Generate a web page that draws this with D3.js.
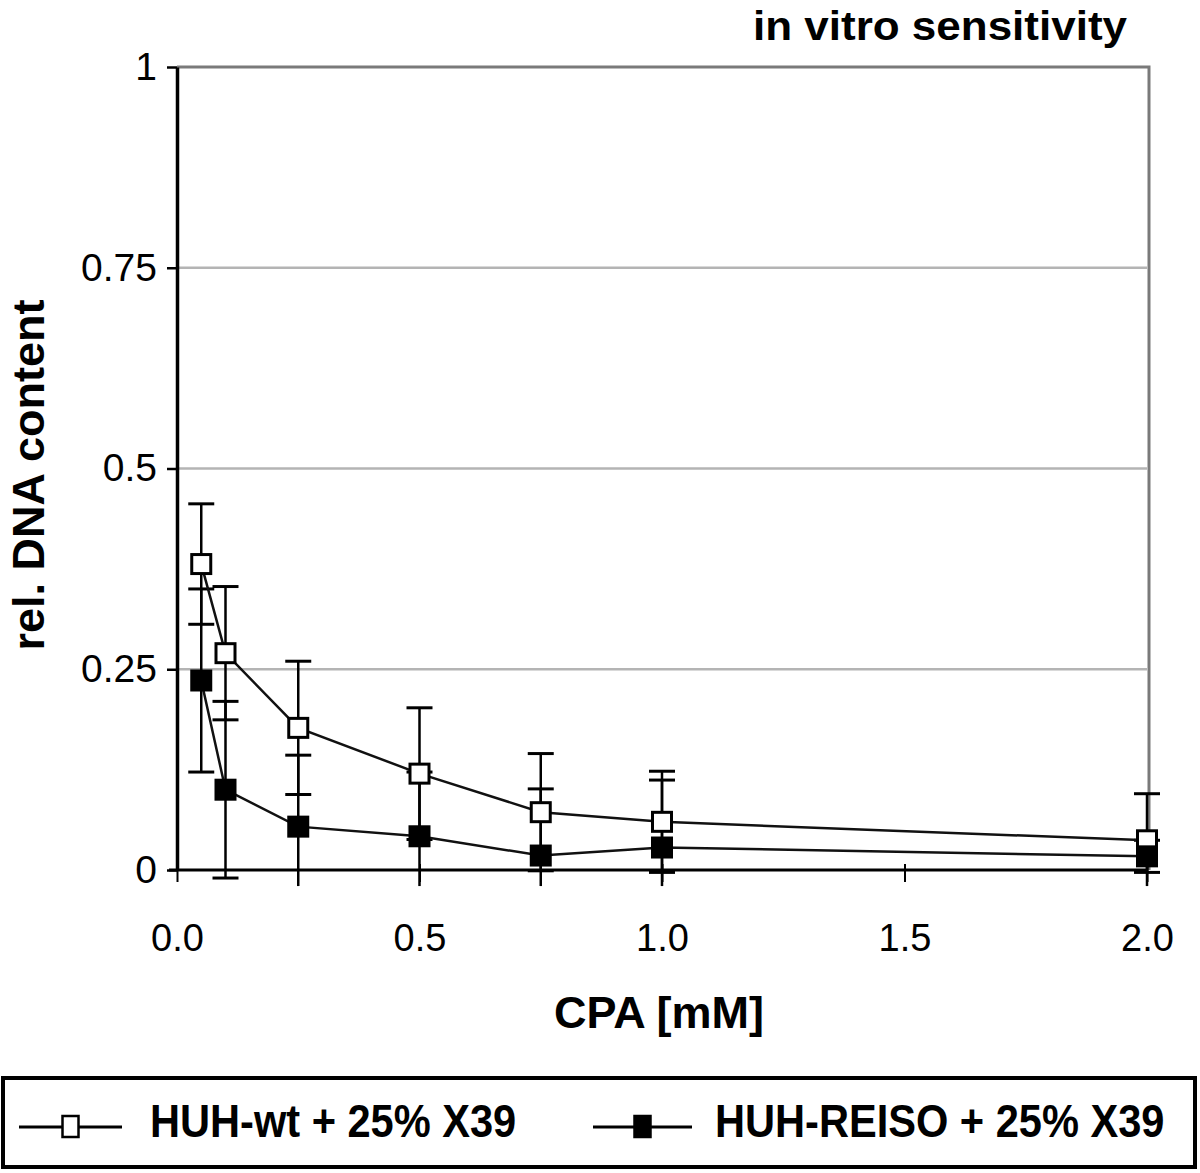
<!DOCTYPE html>
<html>
<head>
<meta charset="utf-8">
<script src="https://cdn.jsdelivr.net/npm/d3@7"></script>
<style>
  body { margin: 0; background: #fff; }
  svg { display: block; }
  text { font-family: "Liberation Sans", Arial, Helvetica, sans-serif; fill: #000; }
</style>
</head>
<body>
<svg id="chart" width="1200" height="1173"></svg>
<script>
// CPA concentrations (mM)
var doses = [0.05, 0.1, 0.25, 0.5, 0.75, 1.0, 2.0];
// HUH-wt + 25% X39 (open squares)
var wtMean = [0.381, 0.270, 0.177, 0.120, 0.072, 0.060, 0.037];
var wtErr = [0.075, 0.083, 0.083, 0.082, 0.073, 0.063, 0.058];
// HUH-REISO + 25% X39 (filled squares)
var reisoMean = [0.236, 0.100, 0.054, 0.042, 0.018, 0.028, 0.017];
var reisoErr = [0.114, 0.110, 0.089, 0.080, 0.083, 0.084, 0.020];

var yTicks = [0, 0.25, 0.5, 0.75, 1];
var yTickLabels = ['0', '0.25', '0.5', '0.75', '1'];
var xTicks = [0, 0.5, 1.0, 1.5, 2.0];
var seriesNames = ['HUH-wt + 25% X39', 'HUH-REISO + 25% X39'];

var svg = d3.select('#chart');
var x = d3.scaleLinear().domain([0, 2]).range([177, 1147]);
var y = d3.scaleLinear().domain([0, 1]).range([870, 67]);
var yFloor = -0.02;

var series = [
  { name: seriesNames[0], mean: wtMean, err: wtErr, fill: '#fff' },
  { name: seriesNames[1], mean: reisoMean, err: reisoErr, fill: '#000' }
];

// grid lines
svg.append('g').selectAll('line').data(yTicks.filter(function(d) { return d > 0 && d < 1; }))
  .enter().append('line')
  .attr('x1', x(0)).attr('x2', x(2))
  .attr('y1', function(d) { return y(d); }).attr('y2', function(d) { return y(d); })
  .style('stroke', '#b4b4b4').style('stroke-width', 2.5);

// plot frame top + right (gray)
svg.append('path')
  .attr('d', 'M' + x(0) + ',' + y(1) + 'H' + (x(2) + 2) + 'V' + y(0))
  .style('fill', 'none').style('stroke', '#7a7a7a').style('stroke-width', 3);

// axes
var yAxis = d3.axisLeft(y).tickValues(yTicks).tickSizeInner(10).tickSizeOuter(0).tickPadding(10)
  .tickFormat(function(d, i) { return yTickLabels[i]; });
var gy = svg.append('g').attr('transform', 'translate(' + x(0) + ',0)').call(yAxis);
gy.select('.domain').style('stroke', '#000').style('stroke-width', 3.5);
gy.selectAll('.tick line').style('stroke', '#000').style('stroke-width', 2.5);
gy.selectAll('.tick text').style('font-size', '39px').style('font-family', '"Liberation Sans", Arial, sans-serif');

var xAxis = d3.axisBottom(x).tickValues(xTicks).tickSizeInner(12).tickSizeOuter(0).tickPadding(42)
  .tickFormat(d3.format('.1f'));
var gx = svg.append('g').attr('transform', 'translate(0,' + y(0) + ')').call(xAxis);
gx.select('.domain').attr('d', 'M' + (x(0) - 8) + ',0H' + x(2)).style('stroke', '#000').style('stroke-width', 3);
gx.selectAll('.tick line').attr('y1', -6).style('stroke', '#000').style('stroke-width', 2);
gx.selectAll('.tick text').style('font-size', '38px').style('font-family', '"Liberation Sans", Arial, sans-serif');

// error bars, lines, markers
series.forEach(function(s) {
  var pts = doses.map(function(d, i) { return { x: d, m: s.mean[i], e: s.err[i] }; });
  var g = svg.append('g');
  g.selectAll('line.bar').data(pts).enter().append('line')
    .attr('x1', function(d) { return x(d.x); }).attr('x2', function(d) { return x(d.x); })
    .attr('y1', function(d) { return y(d.m + d.e); })
    .attr('y2', function(d) { return y(Math.max(yFloor, d.m - d.e)); })
    .style('stroke', '#000').style('stroke-width', 2.5);
  var caps = [];
  pts.forEach(function(d) {
    caps.push({ x: d.x, v: d.m + d.e });
    if (d.m - d.e > yFloor) caps.push({ x: d.x, v: d.m - d.e });
  });
  g.selectAll('line.cap').data(caps).enter().append('line')
    .attr('x1', function(d) { return x(d.x) - 13; }).attr('x2', function(d) { return x(d.x) + 13; })
    .attr('y1', function(d) { return y(d.v); }).attr('y2', function(d) { return y(d.v); })
    .style('stroke', '#000').style('stroke-width', 3);
});

series.forEach(function(s) {
  var pts = doses.map(function(d, i) { return { x: d, m: s.mean[i] }; });
  svg.append('path').datum(pts)
    .attr('d', d3.line().x(function(d) { return x(d.x); }).y(function(d) { return y(d.m); }))
    .style('fill', 'none').style('stroke', '#111').style('stroke-width', 2.5);
});

series.forEach(function(s) {
  var pts = doses.map(function(d, i) { return { x: d, m: s.mean[i] }; });
  svg.append('g').selectAll('rect').data(pts).enter().append('rect')
    .attr('x', function(d) { return x(d.x) - 9.5; }).attr('y', function(d) { return y(d.m) - 9.5; })
    .attr('width', 19).attr('height', 19)
    .style('fill', s.fill).style('stroke', '#000').style('stroke-width', 3);
});

// titles
svg.append('text').attr('transform', 'translate(1127,40) scale(1.1,1)').attr('text-anchor', 'end')
  .style('font-size', '40px').style('font-weight', 'bold').text('in vitro sensitivity');
svg.append('text').attr('x', 659).attr('y', 1028).attr('text-anchor', 'middle')
  .style('font-size', '45px').style('font-weight', 'bold').text('CPA [mM]');
svg.append('text').attr('transform', 'translate(44,475) rotate(-90)').attr('text-anchor', 'middle')
  .style('font-size', '45px').style('font-weight', 'bold').text('rel. DNA content');

// legend
svg.append('rect').attr('x', 3).attr('y', 1078).attr('width', 1192).attr('height', 89)
  .style('fill', '#fff').style('stroke', '#000').style('stroke-width', 4);
var legendItems = [
  { s: series[0], x1: 19, x2: 122, tx: 150 },
  { s: series[1], x1: 593, x2: 692, tx: 715 }
];
var lg = svg.append('g').selectAll('g').data(legendItems).enter().append('g');
lg.append('line').attr('x1', function(d) { return d.x1; }).attr('x2', function(d) { return d.x2; })
  .attr('y1', 1127).attr('y2', 1127).style('stroke', '#000').style('stroke-width', 3);
lg.append('rect').attr('x', function(d) { return (d.x1 + d.x2) / 2 - 8; }).attr('y', 1116)
  .attr('width', 16).attr('height', 21)
  .style('fill', function(d) { return d.s.fill; }).style('stroke', '#000').style('stroke-width', 2.5);
lg.append('text').attr('transform', function(d) { return 'translate(' + d.tx + ',1137) scale(0.885,1)'; })
  .style('font-size', '47px').style('font-weight', 'bold').text(function(d) { return d.s.name; });
</script>
</body>
</html>
